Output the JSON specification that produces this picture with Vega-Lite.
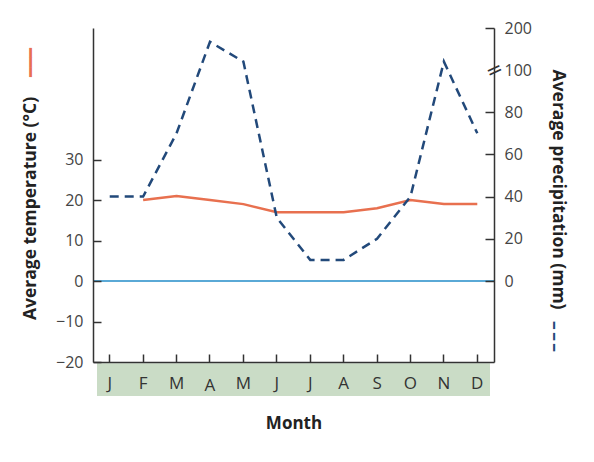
{
  "$schema": "https://vega.github.io/schema/vega-lite/v6.json",
  "width": 401,
  "height": 334,
  "autosize": "none",
  "padding": {"left": 93, "top": 28, "right": 100, "bottom": 100},
  "background": "white",
  "data": {
    "values": [
      {"month": "Jan", "precip": 40},
      {"month": "Feb", "temp": 20, "precip": 40},
      {"month": "Mar", "temp": 21, "precip": 70},
      {"month": "Apr", "temp": 20, "precip": 167},
      {"month": "May", "temp": 19, "precip": 120},
      {"month": "Jun", "temp": 17, "precip": 30},
      {"month": "Jul", "temp": 17, "precip": 10},
      {"month": "Aug", "temp": 17, "precip": 10},
      {"month": "Sep", "temp": 18, "precip": 20},
      {"month": "Oct", "temp": 20, "precip": 40},
      {"month": "Nov", "temp": 19, "precip": 120},
      {"month": "Dec", "temp": 19, "precip": 70}
    ]
  },
  "layer": [
    {
      "layer": [
        {
          "mark": {"type": "rect", "color": "#cadcc6", "clip": false, "stroke": "white", "strokeWidth": 8},
          "encoding": {
            "y": {"datum": -29.4, "type": "quantitative"},
            "y2": {"datum": -19.3}
          }
        },
        {
          "mark": {"type": "rule", "color": "#5aa9d6", "strokeWidth": 2},
          "encoding": {"y": {"datum": 0, "type": "quantitative"}}
        },
        {
          "mark": {"type": "line", "color": "#e8704f", "strokeWidth": 2.5},
          "encoding": {
            "x": {
              "field": "month", "type": "ordinal", "sort": null,
              "scale": {"type": "band", "paddingInner": 0, "paddingOuter": 0},
              "axis": {
                "orient": "bottom", "title": "Month", "zindex": 1,
                "labelExpr": "substring(datum.label, 0, 1)",
                "labelAngle": 0, "tickSize": -8,
                "labelPadding": {"condition": {"test": "datum.value == 'Apr'", "value": 23.5}, "value": 21},
                "bandPosition": 0.5,
                "titleFontSize": 17, "titleFontWeight": "bold", "titleColor": "#222",
                "titleY": 61, "titleBaseline": "middle",
                "labelFontSize": 17, "labelColor": "#333"
              }
            },
            "y": {
              "field": "temp", "type": "quantitative",
              "scale": {"domain": [-20, 62.5], "nice": false, "zero": false},
              "axis": {
                "orient": "left", "values": [-20, -10, 0, 10, 20, 30], "zindex": 1,
                "tickSize": -8, "labelPadding": 18,
                "title": "Average temperature (°C)",
                "titleX": -63, "titleY": 180, "titleAngle": 270,
                "titleBaseline": "middle", "titleAlign": "center",
                "titleFontSize": 17.5, "titleFontWeight": "bold", "titleColor": "#222"
              }
            }
          }
        }
      ]
    },
    {
      "mark": {"type": "line", "color": "#22497a", "strokeWidth": 2.5, "strokeDash": [9, 6]},
      "encoding": {
        "x": {"field": "month", "type": "ordinal", "sort": null},
        "y": {
          "field": "precip", "type": "quantitative",
          "scale": {"domain": [-40, 0, 100, 200], "range": [334, 253, 42, 0], "nice": false, "zero": false},
          "axis": {
            "orient": "right", "values": [0, 20, 40, 60, 80, 200], "zindex": 1,
            "tickSize": -9, "labelPadding": 19,
            "title": "Average precipitation (mm)",
            "titleX": 63, "titleY": 161, "titleAngle": 90,
            "titleBaseline": "middle", "titleAlign": "center",
            "titleFontSize": 17.5, "titleFontWeight": "bold", "titleColor": "#222"
          }
        }
      }
    },
    {
      "mark": {"type": "line", "opacity": 0},
      "encoding": {
        "x": {"field": "month", "type": "ordinal", "sort": null},
        "y": {
          "field": "precip", "type": "quantitative",
          "scale": {"domain": [-40, 0, 100, 200], "range": [334, 253, 42, 0], "nice": false, "zero": false},
          "axis": {
            "orient": "right", "values": [100], "zindex": 2,
            "title": null, "domain": false, "ticks": false, "grid": false,
            "labelExpr": "'='", "labelFont": "DejaVu Sans", "labelFontSize": 20,
            "labelAngle": -25, "labelAlign": "center", "labelBaseline": "middle",
            "labelPadding": 0, "labelColor": "#333"
          }
        }
      }
    },
    {
      "mark": {"type": "line", "opacity": 0},
      "encoding": {
        "x": {"field": "month", "type": "ordinal", "sort": null},
        "y": {
          "field": "precip", "type": "quantitative",
          "scale": {"domain": [-40, 0, 100, 200], "range": [334, 253, 42, 0], "nice": false, "zero": false},
          "axis": {
            "orient": "right", "values": [100], "zindex": 2,
            "title": null, "domain": false, "ticks": false, "grid": false,
            "labelExpr": "'100'", "labelFontSize": 16, "labelColor": "#444",
            "labelAlign": "left", "labelBaseline": "middle", "labelPadding": 10
          }
        }
      }
    },
    {
      "mark": {"type": "line", "opacity": 0},
      "encoding": {
        "x": {"field": "month", "type": "ordinal", "sort": null},
        "y": {
          "field": "temp", "type": "quantitative",
          "axis": {
            "orient": "left", "title": "━━━", "titleColor": "#e8704f",
            "titleFont": "DejaVu Sans",
            "titleX": -63, "titleY": 34, "titleAngle": 270,
            "titleBaseline": "middle", "titleAlign": "center",
            "titleFontSize": 16, "titleFontWeight": "normal",
            "domain": false, "ticks": false, "labels": false, "grid": false
          }
        }
      }
    },
    {
      "mark": {"type": "line", "opacity": 0},
      "encoding": {
        "x": {"field": "month", "type": "ordinal", "sort": null},
        "y": {
          "field": "precip", "type": "quantitative",
          "axis": {
            "orient": "right", "title": "━ ━ ━", "titleColor": "#22497a",
            "titleFont": "DejaVu Sans",
            "titleX": 59, "titleY": 308, "titleAngle": 90,
            "titleBaseline": "middle", "titleAlign": "center",
            "titleFontSize": 12, "titleFontWeight": "normal",
            "domain": false, "ticks": false, "labels": false, "grid": false
          }
        }
      }
    }
  ],
  "resolve": {"scale": {"y": "independent"}, "axis": {"y": "independent"}},
  "config": {
    "view": {"stroke": null},
    "font": "Open Sans",
    "axis": {
      "grid": false,
      "domainColor": "#333", "domainWidth": 1.5,
      "tickColor": "#333", "tickWidth": 1.5,
      "labelFont": "Open Sans", "titleFont": "Open Sans",
      "labelFontSize": 16, "labelColor": "#444"
    }
  }
}
